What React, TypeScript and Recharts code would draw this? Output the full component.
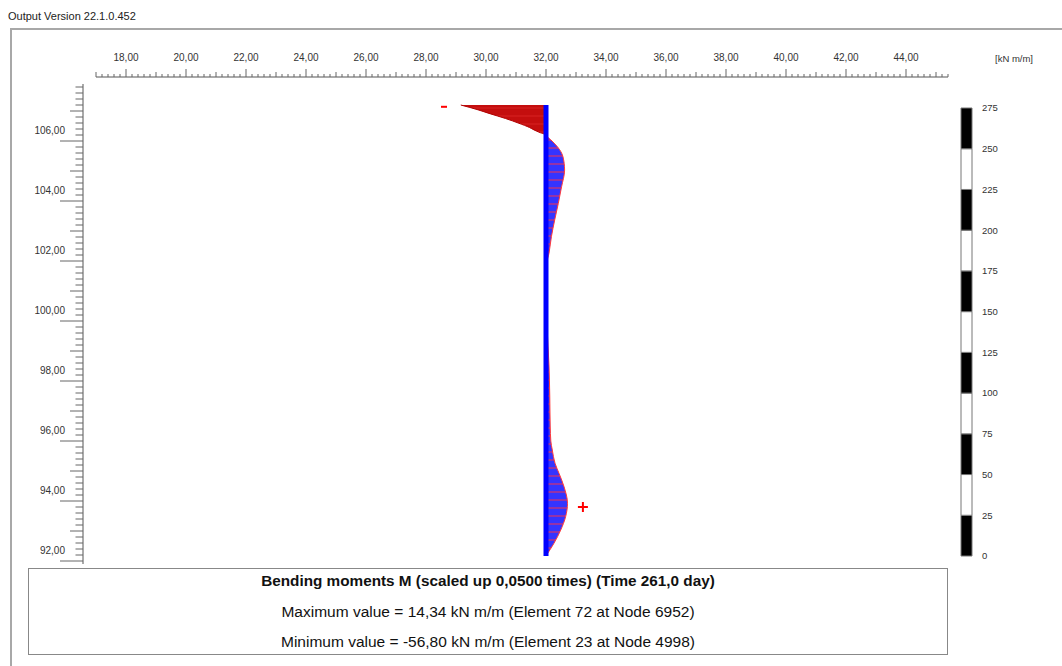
import React from "react";
import {
  ComposedChart,
  Area,
  XAxis,
  YAxis,
  ReferenceLine,
  ReferenceDot,
  BarChart,
  Bar,
} from "recharts";

// depth levels along the pile (m) and bending moment at each (kN m/m)
const LEVEL = [
  107.2, 107.05, 106.92, 106.75, 106.59, 106.45, 106.37, 106.28, 106.2, 106.05,
  105.81, 105.48, 105.03, 104.48, 103.92, 103.37, 102.81, 102.26, 101.9, 100.5,
  99.5, 98.5, 97.5, 96.5, 96.0, 95.7, 95.26, 94.92, 94.48, 93.92, 93.48, 93.03,
  92.59, 92.17,
];
const MOMENT = [
  -56.8, -46, -38, -27, -18, -11, -8, -4, 0, 3, 7.6, 11.3, 12.4, 10.4, 8.2, 5.8,
  3.6, 2.0, 0.5, 0.5, 1.0, 2.0, 2.5, 2.8, 3.2, 4.2, 6, 8.7, 12, 14.34, 13.1, 9.8,
  5.3, 0,
];

const PILE_X = 32;
const PILE_TOP = 107.2;
const PILE_BOTTOM = 92.17;
const SCALE = 0.05;

const X_DOMAIN = [17, 45.4];
const Y_DOMAIN = [91.9, 107.9];
const X_LABELS = [18, 20, 22, 24, 26, 28, 30, 32, 34, 36, 38, 40, 42, 44];
const Y_LABELS = [92, 94, 96, 98, 100, 102, 104, 106];
const LEGEND_VALUES = [0, 25, 50, 75, 100, 125, 150, 175, 200, 225, 250, 275];

const MIN_MARK = { x: 28.6, y: 107.14 };
const MAX_MARK = { x: 33.23, y: 93.8 };

const data = LEVEL.map((level, i) => ({
  level,
  neg: [PILE_X, PILE_X + SCALE * Math.min(MOMENT[i], 0)],
  pos: [PILE_X, PILE_X + SCALE * Math.max(MOMENT[i], 0)],
}));

const xTicks: number[] = [];
for (let i = 85; i <= 227; i++) xTicks.push(i / 5);
const yTicks: number[] = [];
for (let i = 460; i <= 539; i++) yTicks.push(i / 5);

// plot box in pixels (from chart margins below)
const PLOT_W = 852;
const PLOT_H = 480;
const X_SHIFT = -7; // top ruler sits above the plot box
const Y_SHIFT = -13; // left ruler sits left of the plot box

const fmt = (v: number) => v.toFixed(2).replace(".", ",");
const FONT = "'Liberation Sans', Arial, sans-serif";

function TopTick(props: any) {
  const { x, y, payload, index } = props;
  const yy = y + X_SHIFT;
  const i = Math.round(payload.value * 5);
  const major = i % 10 === 0 && X_LABELS.includes(i / 5);
  const mid = i % 5 === 0;
  const len = major ? 8 : mid ? 5 : 3;
  return (
    <g>
      {index === 0 && <line x1={x} x2={x + PLOT_W} y1={yy} y2={yy} stroke="#555" />}
      <line x1={x} x2={x} y1={yy} y2={yy - len} stroke="#666" />
      {major && (
        <text x={x} y={yy - 16} textAnchor="middle" fontSize={10} fill="#333" fontFamily={FONT}>
          {fmt(payload.value)}
        </text>
      )}
    </g>
  );
}

function LeftTick(props: any) {
  const { x, y, payload, index } = props;
  const xx = x + Y_SHIFT;
  const i = Math.round(payload.value * 5);
  const major = i % 10 === 0 && Y_LABELS.includes(i / 5);
  const mid = i % 5 === 0;
  const len = major ? 23 : mid ? 13 : 7.5;
  const pxPerUnit = PLOT_H / (Y_DOMAIN[1] - Y_DOMAIN[0]);
  const below = (payload.value - Y_DOMAIN[0]) * pxPerUnit;
  return (
    <g>
      {index === 0 && (
        <line x1={xx} x2={xx} y1={y + below} y2={y + below - PLOT_H} stroke="#555" />
      )}
      <line x1={xx} x2={xx - len} y1={y} y2={y} stroke="#666" />
      {major && (
        <text x={xx - 18} y={y - 7} textAnchor="end" fontSize={10} fill="#333" fontFamily={FONT}>
          {fmt(payload.value)}
        </text>
      )}
    </g>
  );
}

const legendRow: any = { name: "scale" };
LEGEND_VALUES.slice(1).forEach((_, i) => (legendRow["s" + i] = 25));

export default function App() {
  return (
    <div
      style={{
        position: "absolute",
        left: 0,
        top: 0,
        width: 1062,
        height: 666,
        background: "#fff",
        fontFamily: FONT,
        overflow: "hidden",
      }}
    >
      <div style={{ position: "absolute", left: 8, top: 10, fontSize: 11, color: "#222" }}>
        Output Version 22.1.0.452
      </div>
      <div
        style={{
          position: "absolute",
          left: 10,
          top: 28,
          width: 1070,
          height: 660,
          border: "2px solid #a8a8a8",
        }}
      />
      <div style={{ position: "absolute", left: 0, top: 0 }}>
        <ComposedChart
          width={1062}
          height={666}
          data={data}
          layout="vertical"
          margin={{ top: 54, right: 114, bottom: 102, left: 36 }}
        >
          <defs>
            <pattern id="blueHatch" width="8" height="8" patternUnits="userSpaceOnUse">
              <rect width="8" height="8" fill="#3434ff" />
              <line x1="0" y1="4" x2="8" y2="4" stroke="#d8306a" strokeWidth="1.2" />
            </pattern>
            <pattern id="redHatch" width="8" height="8" patternUnits="userSpaceOnUse">
              <rect width="8" height="8" fill="#c40e0e" />
              <line x1="0" y1="4" x2="8" y2="4" stroke="#d82222" strokeWidth="1" />
            </pattern>
          </defs>
          <XAxis
            type="number"
            orientation="top"
            domain={X_DOMAIN}
            allowDataOverflow
            ticks={xTicks}
            interval={0}
            tickSize={0}
            tickMargin={0}
            tickLine={false}
            axisLine={false}
            tick={<TopTick />}
          />
          <YAxis
            type="number"
            dataKey="level"
            domain={Y_DOMAIN}
            allowDataOverflow
            reversed
            ticks={yTicks}
            interval={0}
            width={60}
            tickSize={0}
            tickMargin={0}
            tickLine={false}
            axisLine={false}
            tick={<LeftTick />}
          />
          <Area
            type="monotone"
            dataKey="neg"
            fill="url(#redHatch)"
            fillOpacity={1}
            stroke="#b00000"
            strokeWidth={1}
            isAnimationActive={false}
            activeDot={false}
          />
          <Area
            type="monotone"
            dataKey="pos"
            fill="url(#blueHatch)"
            fillOpacity={1}
            stroke="#ff3a3a"
            strokeWidth={1}
            isAnimationActive={false}
            activeDot={false}
          />
          <ReferenceLine
            segment={[
              { x: PILE_X, y: PILE_BOTTOM },
              { x: PILE_X, y: PILE_TOP },
            ]}
            stroke="#0000ff"
            strokeWidth={5}
          />
          <ReferenceDot
            x={MIN_MARK.x}
            y={MIN_MARK.y}
            r={0}
            shape={(p: any) => <rect x={p.cx - 3} y={p.cy - 1} width={6} height={2} fill="#ff0000" />}
          />
          <ReferenceDot
            x={MAX_MARK.x}
            y={MAX_MARK.y}
            r={0}
            shape={(p: any) => (
              <g stroke="#ff0000" strokeWidth={2}>
                <line x1={p.cx - 5} x2={p.cx + 5} y1={p.cy} y2={p.cy} />
                <line x1={p.cx} x2={p.cx} y1={p.cy - 5} y2={p.cy + 5} />
              </g>
            )}
          />
        </ComposedChart>
      </div>

      <div style={{ position: "absolute", left: 995, top: 53, fontSize: 9.5, color: "#333" }}>
        [kN m/m]
      </div>
      <div style={{ position: "absolute", left: 950, top: 100 }}>
        <BarChart
          width={90}
          height={466}
          data={[legendRow]}
          margin={{ top: 8, right: 28, bottom: 10, left: 11 }}
          barCategoryGap={0}
        >
          <XAxis dataKey="name" hide />
          <YAxis
            orientation="right"
            type="number"
            domain={[0, 275]}
            ticks={LEGEND_VALUES}
            interval={0}
            width={40}
            tickSize={0}
            tickMargin={10}
            tickLine={false}
            axisLine={false}
            tick={{ fontSize: 9.5, fill: "#333", fontFamily: FONT, textAnchor: "start" }}
          />
          {LEGEND_VALUES.slice(1).map((_, i) => (
            <Bar
              key={i}
              dataKey={"s" + i}
              stackId="a"
              fill={i % 2 === 0 ? "#000" : "#fff"}
              stroke="#777"
              strokeWidth={1}
              isAnimationActive={false}
            />
          ))}
        </BarChart>
      </div>

      <div
        style={{
          position: "absolute",
          left: 28,
          top: 568,
          width: 918,
          height: 85,
          border: "1px solid #888",
          textAlign: "center",
          color: "#111",
        }}
      >
        <div style={{ position: "absolute", left: 0, right: 0, top: 3, fontWeight: "bold", fontSize: 15.3 }}>
          Bending moments M (scaled up 0,0500 times) (Time 261,0 day)
        </div>
        <div style={{ position: "absolute", left: 0, right: 0, top: 34, fontSize: 15.5 }}>
          Maximum value = 14,34 kN m/m (Element 72 at Node 6952)
        </div>
        <div style={{ position: "absolute", left: 0, right: 0, top: 64, fontSize: 15.5 }}>
          Minimum value = -56,80 kN m/m (Element 23 at Node 4998)
        </div>
      </div>
    </div>
  );
}
